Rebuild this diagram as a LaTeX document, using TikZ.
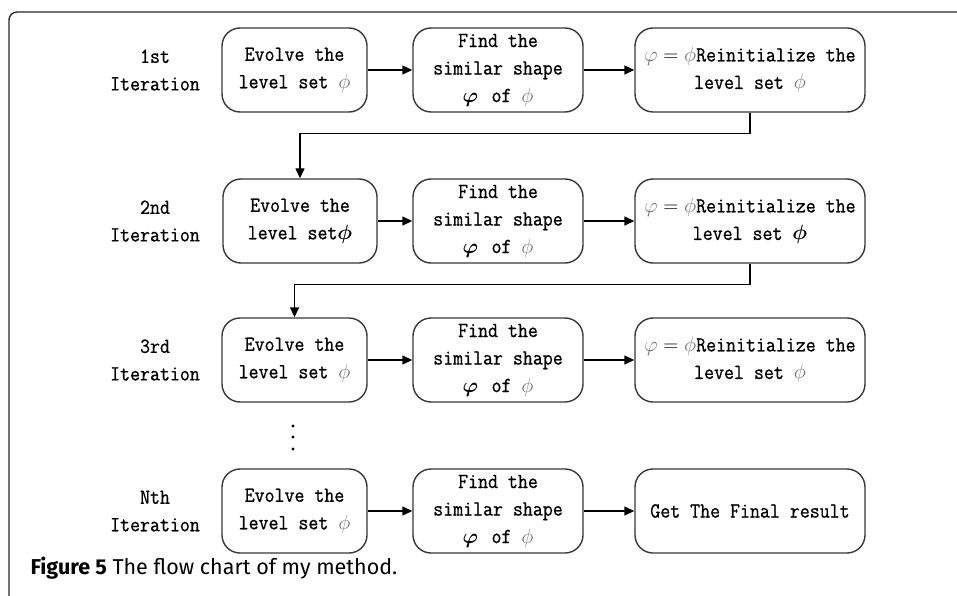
\documentclass[tikz,border=0pt]{standalone}
\usepackage{fontspec}
\usepackage{amsmath}
\newfontfamily\boxfont[FakeStretch=0.9, FakeBold=0.8]{Latin Modern Mono}
\newfontfamily\capfont{Fira Sans}
\usetikzlibrary{arrows.meta,positioning}
\definecolor{phigray}{gray}{0.45}
\definecolor{edgegray}{gray}{0.22}
\newcommand{\lightphi}{\textcolor{phigray}{$\phi$}}
\newcommand{\darkphi}{$\boldsymbol{\phi}$}
\newcommand{\lightvarphi}{\textcolor{phigray}{$\varphi$}}
\newcommand{\darkvarphi}{$\boldsymbol{\varphi}$}

\begin{document}
\begin{tikzpicture}[x=1pt, y=-1pt,
  every node/.style={font=\boxfont\fontsize{21.5}{27.5}\selectfont, align=center},
  stepbox/.style={draw=edgegray, line width=1.4pt, rounded corners=18pt,
                  minimum height=84pt, inner sep=0pt},
  flow/.style={line width=1.4pt, -{Triangle[length=10pt,width=9pt]}}]
  % Define dimensions
  \def\colL{155}
  \def\colA{294.5}
  \def\colB{498}
  \def\colC{750}
  \def\rowA{70}
  \def\rowB{221}
  \def\rowC{360}
  \def\rowD{511}
  \useasboundingbox (0,0) rectangle (957,596);

  % Frame
  \draw[black!85, line width=1.4pt, rounded corners=8pt] (9,596) -- (9,12) -- (957,12);

  % 1st iteration
  \node (iterA) at (\colL,\rowA) {1st\\Iteration};
  \node[stepbox, minimum width=145pt] (evolveA) at (\colA,\rowA) {Evolve the\\level set \lightphi};
  \node[stepbox, minimum width=170pt] (findA) at (\colB,\rowA) {Find the\\similar shape\\\darkvarphi\ \,of \lightphi};
  \node[stepbox, minimum width=230pt] (reinitA) at (\colC,\rowA) {\lightvarphi${}={}$\lightphi Reinitialize the\\level set \lightphi};

  % 2nd iteration
  \node (iterB) at (\colL,\rowB) {2nd\\Iteration};
  \node[stepbox, minimum width=154pt] (evolveB) at (300,\rowB) {Evolve the\\level set\darkphi};
  \node[stepbox, minimum width=170pt] (findB) at (\colB,\rowB) {Find the\\similar shape\\\darkvarphi\ \,of \lightphi};
  \node[stepbox, minimum width=230pt] (reinitB) at (\colC,\rowB) {\lightvarphi${}={}$\lightphi Reinitialize the\\level set \darkphi};

  % 3rd iteration
  \node (iterC) at (\colL,\rowC) {3rd\\Iteration};
  \node[stepbox, minimum width=145pt] (evolveC) at (\colA,\rowC) {Evolve the\\level set \lightphi};
  \node[stepbox, minimum width=170pt] (findC) at (\colB,\rowC) {Find the\\similar shape\\\darkvarphi\ \,of \lightphi};
  \node[stepbox, minimum width=230pt] (reinitC) at (\colC,\rowC) {\lightvarphi${}={}$\lightphi Reinitialize the\\level set \lightphi};

  % Nth iteration
  \node (iterD) at (\colL,\rowD) {Nth\\Iteration};
  \node[stepbox, minimum width=145pt] (evolveD) at (\colA,\rowD) {Evolve the\\level set \lightphi};
  \node[stepbox, minimum width=170pt] (findD) at (\colB,\rowD) {Find the\\similar shape\\\darkvarphi\ \,of \lightphi};
  \node[stepbox, minimum width=230pt] (finalD) at (\colC,\rowD) {Get The Final result};

  % Draw dots
  \foreach \y in {426, 437, 449}
      \fill [black] (293,\y) circle (1.6pt);

  % Arrows
  \foreach \r in {A, B, C}
  {
    \draw [flow] (evolve\r) -- (find\r);
    \draw [flow] (find\r) -- (reinit\r);
  }
  \draw [flow] (evolveD) -- (findD);
  \draw [flow] (findD) -- (finalD);
  \draw [flow] (reinitA.south) -- ++(0,21) -| (evolveB.north);
  \draw [flow] (reinitB.south) -- ++(0,21) -| (evolveC.north);

  % Caption
  \node[font=\capfont\fontsize{21.5}{26}\selectfont, anchor=base west] (caption) at (27,574)
       {\textbf{Figure 5} The flow chart of my method.};
\end{tikzpicture}
\end{document}
